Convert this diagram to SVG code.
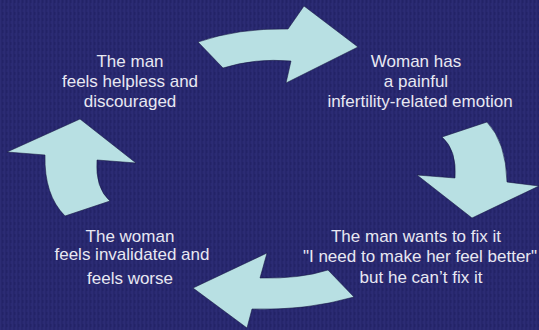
<svg xmlns="http://www.w3.org/2000/svg" width="539" height="330" viewBox="0 0 539 330">
  <defs>
    <pattern id="denim" width="4" height="6" patternUnits="userSpaceOnUse">
      <rect width="4" height="6" fill="#27276d"/>
      <rect x="0" y="0" width="1" height="6" fill="#2d2d78" opacity="0.7"/>
      <rect x="2" y="0" width="1" height="3" fill="#202062" opacity="0.6"/>
      <rect x="3" y="3" width="1" height="3" fill="#2f2f7c" opacity="0.5"/>
    </pattern>
    <style>
      .lbl { font-family: "Liberation Sans", Arial, sans-serif; font-size: 17px; fill: #e8e8f2; text-anchor: middle; }
      .arrow { fill: #b8e0e3; stroke: #161640; stroke-width: 0.8; stroke-opacity: 0.7; stroke-linejoin: miter; }
    </style>
  </defs>
  <rect width="539" height="330" fill="url(#denim)"/>

  <g id="connectors">
    <path class="arrow" d="M198,42 Q238,28 288,29 L304,6 L358,47 L286,83 L291,61 Q255,58 223,68 Z"/>
    <path class="arrow" d="M442,137 L487,122 Q506,142 507,182 L539,186 L472,218 L417,175 L455,178 Q457,150 442,137 Z"/>
    <path class="arrow" d="M354,297 Q305,311 252,309 L247,328 L193,288 L267,253 L260,278 Q300,279 328,270 Z"/>
    <path class="arrow" d="M65,216 Q44,195 45,155 L7,152 L80,119 L136,163 L97,160 Q95,188 110,201 Z"/>
  </g>

  <g id="node-man-helpless">
    <text class="lbl" x="130" y="67">The man</text>
    <text class="lbl" x="130" y="87">feels helpless and</text>
    <text class="lbl" x="130" y="107">discouraged</text>
  </g>

  <g id="node-woman-emotion">
    <text class="lbl" x="416" y="67">Woman has</text>
    <text class="lbl" x="416" y="87">a painful</text>
    <text class="lbl" x="420" y="107">infertility-related emotion</text>
  </g>

  <g id="node-man-fix">
    <text class="lbl" x="416" y="242">The man wants to fix it</text>
    <text class="lbl" x="420" y="262">"I need to make her feel better"</text>
    <text class="lbl" x="421" y="283">but he can’t fix it</text>
  </g>

  <g id="node-woman-invalidated">
    <text class="lbl" x="130" y="242">The woman</text>
    <text class="lbl" x="132" y="260">feels invalidated and</text>
    <text class="lbl" x="130" y="284">feels worse</text>
  </g>
</svg>
